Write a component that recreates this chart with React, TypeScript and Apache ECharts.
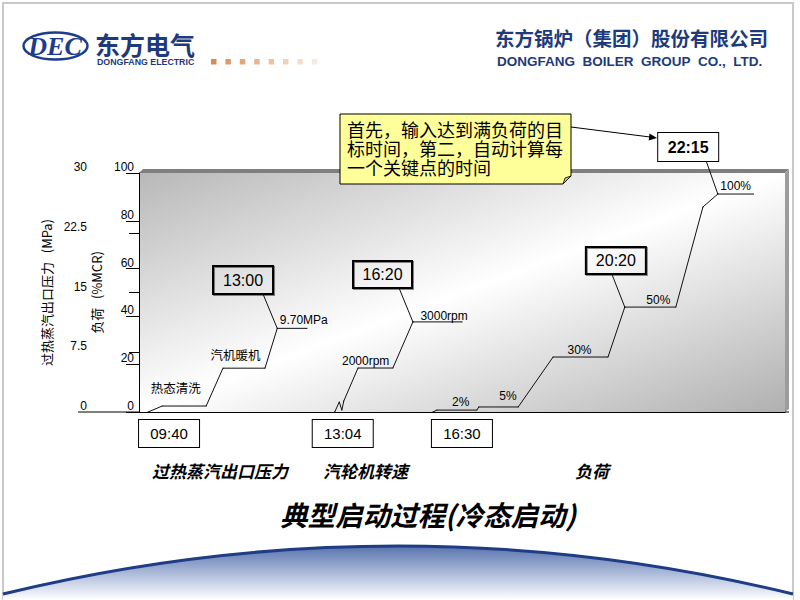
import React, { useEffect, useRef } from 'react';
import * as echarts from 'echarts';

const SANS = "'Liberation Sans', Arial, 'Noto Sans CJK SC', sans-serif";
const CJK = "'Noto Sans CJK SC', 'Liberation Sans', sans-serif";

// Schematic horizontal position (% of plot width) – the original drawing is not time-linear
const pressureX = [1.4, 3.6, 10.4, 13.0, 19.5, 21.4, 26.0];
const pressureMPa = [0, 0.75, 0.75, 5.5, 5.5, 10.5, 10.5];
const speedX = [30.3, 31.0, 31.4, 31.7, 33.9, 39.3, 42.4, 50.0];
const speedLevel = [0, 4.2, 0.8, 4.6, 18.4, 18.4, 37.7, 37.7];
const loadX = [45.5, 46.1, 52.3, 52.6, 58.7, 64.1, 72.6, 75.2, 83.1, 87.3, 89.6, 95.1];
const loadPct = [0, 0.8, 0.8, 2.1, 2.1, 23, 23, 43.9, 43.9, 85.8, 91.2, 91.2];

const seriesNames = ['过热蒸汽出口压力', '汽轮机转速', '负荷'];
const startTimes = ['09:40', '13:04', '16:30'];
const keyTimes = ['13:00', '16:20', '20:20', '22:15'];
const pressureNotes = ['热态清洗', '汽机暖机', '9.70MPa'];
const speedNotes = ['2000rpm', '3000rpm'];
const loadNotes = ['2%', '5%', '30%', '50%', '100%'];
const pressureTicks = [0, 7.5, 15, 22.5, 30];
const loadTicks = [0, 20, 40, 60, 80, 100];
const calloutLines = ['首先，输入达到满负荷的目', '标时间，第二，自动计算每', '一个关键点的时间'];
const titleText = '典型启动过程(冷态启动)';

echarts.graphic.registerShape(
  'dome',
  echarts.graphic.extendPath('M3,594 Q398,498 793,594 L793,600 L3,600 Z', {})
);

const note = (text: string, position: string, distance: number, dy: number, dx = 0, cjk = false) => ({
  show: true,
  formatter: text,
  position,
  distance,
  offset: [dx, dy],
  color: '#000',
  fontSize: cjk ? 12.5 : 12,
  lineHeight: cjk ? 13 : 12,
  fontFamily: cjk ? CJK : SANS,
});

const timeBox = (text: string, position: string, dx: number, dy: number, opts: any = {}) => ({
  show: true,
  formatter: text,
  position,
  distance: 0,
  offset: [dx, dy],
  width: opts.width ?? 59,
  height: opts.height ?? 27,
  lineHeight: opts.height ?? 27,
  align: 'center',
  padding: 0,
  borderColor: '#000',
  borderWidth: 1,
  backgroundColor: opts.bg ?? 'transparent',
  color: '#000',
  fontSize: opts.fontSize ?? 16,
  fontWeight: opts.bold ? 'bold' : 'normal',
  fontFamily: SANS,
});

function pts(xs: number[], ys: number[], labels: Record<number, any>) {
  return xs.map((x, i) => (labels[i] ? { value: [x, ys[i]], label: labels[i] } : { value: [x, ys[i]] }));
}

const lineBase = {
  type: 'line',
  symbol: 'circle',
  symbolSize: 1,
  itemStyle: { color: '#000' },
  lineStyle: { color: '#111', width: 1 },
  clip: false,
  silent: true,
  emphasis: { disabled: true },
  z: 3,
};

function buildOption() {
  const lowBox = { width: 60, height: 27, bg: '#fff', fontSize: 15 };
  const pressureData = pts(pressureX, pressureMPa, {
    0: timeBox(startTimes[0], 'bottom', 21, 7.5, lowBox),
    1: note(pressureNotes[0], 'right', 0, -19, -12, true),
    4: note(pressureNotes[1], 'left', 4, -14, 0, true),
    5: note(pressureNotes[2], 'right', 2, -8),
  });
  const speedData = pts(speedX, speedLevel, {
    0: timeBox(startTimes[1], 'bottom', 8, 7.5, lowBox),
    5: note(speedNotes[0], 'left', 3, -7),
    6: note(speedNotes[1], 'right', 7, -6),
  });
  const loadData = pts(loadX, loadPct, {
    0: timeBox(startTimes[2], 'bottom', 29, 7.5, lowBox),
    2: note(loadNotes[0], 'left', 7, -8),
    4: note(loadNotes[1], 'left', 1, -10.5),
    6: note(loadNotes[2], 'left', 16, -7),
    8: note(loadNotes[3], 'left', 5, -7),
    10: note(loadNotes[4], 'right', 2, -8.5),
  });

  // leader lines from each key-time box to its point on the curve
  const shadow = { shadowColor: 'rgba(0,0,0,0.45)', shadowOffsetX: 1, shadowOffsetY: 1, shadowBlur: 0 };
  const leaders = [
    { axis: 0, from: [19.2, 14.8], to: [pressureX[5], pressureMPa[5]], dx: -20, opts: { width: 60, height: 28 } },
    { axis: 1, from: [40.25, 51.9], to: [speedX[6], speedLevel[6]], dx: -16.5, opts: {} },
    { axis: 1, from: [73.2, 57.7], to: [loadX[7], loadPct[7]], dx: 4, opts: { width: 60 } },
    { axis: 1, from: [87.8, 105], to: [loadX[10], loadPct[10]], dx: -18, opts: { width: 60, height: 28, bold: true, bg: '#fff' } },
  ];
  const leaderSeries = leaders.map((l, i) => ({
    ...lineBase,
    name: 'key-' + keyTimes[i],
    yAxisIndex: l.axis,
    data: [{ value: l.from, label: { ...timeBox(keyTimes[i], 'top', l.dx, 0.5, l.opts), ...(i < 3 ? shadow : {}) } }, { value: l.to }],
  }));

  const navy = '#1d3a7c';
  const squares = ['#d98b55', '#df9a6a', '#e4a77d', '#e9b591', '#edc2a4', '#f1cfb8', '#f5dccb', '#f8e8dd'];

  const topText = (text: string, x: number, y: number, font: string, size: number, fill = '#000') => ({
    type: 'text', x, y, silent: true,
    style: { text, fill, font: `${font} ${size}px ${font.includes('serif') ? '' : ''}`.trim(), fontSize: size, lineHeight: size, verticalAlign: 'top', textVerticalAlign: 'top' },
  });

  const graphic: any[] = [
    // slide frame
    { type: 'rect', shape: { x: 3, y: 3, width: 790, height: 600 }, style: { fill: 'none', stroke: '#c9c9c9', lineWidth: 2 }, silent: true },
    // bottom dome
    {
      type: 'dome', x: 0, y: 0, scaleX: 1, scaleY: 1, silent: true,
      style: { fill: new echarts.graphic.LinearGradient(0, 0, 0, 1, [
        { offset: 0, color: '#5873ad' }, { offset: 0.55, color: '#b4c1dd' }, { offset: 1, color: '#ffffff' },
      ]) },
    },
    { type: 'bezierCurve', shape: { x1: 3, y1: 594, x2: 793, y2: 594, cpx1: 398, cpy1: 498 }, style: { fill: 'none', stroke: '#1f3d86', lineWidth: 3 }, silent: true },
    // DEC logo
    { type: 'ellipse', shape: { cx: 55.5, cy: 46, rx: 32, ry: 13.5 }, style: { fill: 'none', stroke: '#1e3c8c', lineWidth: 2.5 }, silent: true },
    { type: 'text', x: 55, y: 46.5, silent: true, style: { text: 'DEC', fill: '#1e3c8c', font: "italic bold 26px 'Liberation Serif', serif", lineHeight: 26, align: 'center', verticalAlign: 'middle', textAlign: 'center', textVerticalAlign: 'middle' } },
    { type: 'text', x: 95, y: 31, silent: true, style: { text: '东方电气', fill: navy, font: `bold 25px ${CJK}`, lineHeight: 25, verticalAlign: 'top', textVerticalAlign: 'top' } },
    { type: 'text', x: 97, y: 57.5, silent: true, style: { text: 'DONGFANG ELECTRIC', fill: navy, font: `bold 8.8px ${SANS}`, lineHeight: 9, verticalAlign: 'top', textVerticalAlign: 'top' } },
    ...squares.map((c, i) => ({ type: 'rect', shape: { x: 211 + i * 14.4, y: 59, width: 5.5, height: 5.5 }, style: { fill: c }, silent: true })),
    { type: 'text', x: 495, y: 27, silent: true, style: { text: '东方锅炉（集团）股份有限公司', fill: navy, font: `bold 19.5px ${CJK}`, lineHeight: 20, verticalAlign: 'top', textVerticalAlign: 'top' } },
    { type: 'text', x: 497, y: 54.5, silent: true, style: { text: 'DONGFANG\u00a0 BOILER\u00a0 GROUP\u00a0 CO.,\u00a0 LTD.', fill: navy, font: `bold 13.5px ${SANS}`, lineHeight: 14, verticalAlign: 'top', textVerticalAlign: 'top' } },
    // 3D edges of the plot box
    { type: 'polygon', shape: { points: [[139, 173], [143, 169], [789, 169], [785, 173]] }, style: { fill: '#7f7f7f' }, silent: true },
    { type: 'polygon', shape: { points: [[785, 173], [789, 169], [789, 409], [785, 412]] }, style: { fill: '#9c9c9c' }, silent: true },
    // base line extensions
    { type: 'line', shape: { x1: 78, y1: 412, x2: 139, y2: 412 }, style: { stroke: '#000', lineWidth: 1 }, silent: true },
    { type: 'line', shape: { x1: 785, y1: 412, x2: 789, y2: 412 }, style: { stroke: '#000', lineWidth: 1 }, silent: true },
    // series captions
    ...[152, 323, 575].map((x, i) => ({
      type: 'text', x, y: 470.5, silent: true,
      style: { text: seriesNames[i], fill: '#000', font: `italic bold 17px ${CJK}`, lineHeight: 17, verticalAlign: 'middle', textVerticalAlign: 'middle' },
    })),
    // callout note
    {
      type: 'group', z: 10, silent: true,
      children: [
        { type: 'polygon', shape: { points: [[340, 114], [571, 114], [571, 176], [563, 184], [340, 184]] }, style: { fill: '#ffff99', stroke: '#000', lineWidth: 1 } },
        { type: 'polygon', shape: { points: [[571, 176], [563, 184], [565, 178]] }, style: { fill: '#cccc66', stroke: '#000', lineWidth: 0.8 } },
        ...calloutLines.map((t, i) => ({
          type: 'text', x: 347, y: 128.5 + i * 19.3,
          style: { text: t, fill: '#000', font: `18px ${CJK}`, lineHeight: 18, verticalAlign: 'middle', textVerticalAlign: 'middle' },
        })),
        { type: 'line', shape: { x1: 571, y1: 127, x2: 650, y2: 137 }, style: { stroke: '#000', lineWidth: 1 } },
        { type: 'polygon', shape: { points: [[657, 138], [649.5, 133.5], [648.7, 140.5]] }, style: { fill: '#000' } },
      ],
    },
  ];
  void topText;

  return {
    animation: false,
    backgroundColor: '#fff',
    title: {
      text: titleText, left: 280, top: 500, padding: 0,
      textStyle: { fontSize: 27.5, fontWeight: 'bold', fontStyle: 'italic', color: '#000', fontFamily: CJK, lineHeight: 28 },
    },
    grid: {
      left: 139, right: 15, top: 173, bottom: 188, show: true, borderWidth: 0,
      backgroundColor: new echarts.graphic.LinearGradient(0, 0, 1, 1, [
        { offset: 0, color: '#b8b8b8' }, { offset: 0.5, color: '#ffffff' }, { offset: 1, color: '#b0b0b0' },
      ]),
    },
    xAxis: {
      type: 'value', min: 0, max: 100,
      axisLine: { show: true, onZero: false, lineStyle: { color: '#000', width: 1 } },
      axisTick: { show: false }, axisLabel: { show: false }, splitLine: { show: false },
    },
    yAxis: [
      {
        type: 'value', min: pressureTicks[0], max: pressureTicks[pressureTicks.length - 1], interval: pressureTicks[1] - pressureTicks[0],
        position: 'left', offset: 49,
        name: '过热蒸汽出口压力\u00a0\u00a0\u00a0(MPa)', nameLocation: 'middle', nameGap: 29, nameRotate: 90,
        nameTextStyle: { color: '#000', fontSize: 13, fontFamily: CJK },
        axisLine: { show: true, lineStyle: { color: '#000', width: 1 } },
        axisTick: { show: true, length: 10, lineStyle: { color: '#000' } },
        axisLabel: { color: '#000', fontSize: 12, fontFamily: SANS, margin: 3, verticalAlign: 'bottom' },
        splitLine: { show: false },
      },
      {
        type: 'value', min: loadTicks[0], max: loadTicks[loadTicks.length - 1], interval: loadTicks[1] - loadTicks[0],
        position: 'left', offset: 0,
        name: '负荷\u00a0\u00a0\u00a0(%MCR)', nameLocation: 'middle', nameGap: 25, nameRotate: 90,
        nameTextStyle: { color: '#000', fontSize: 13, fontFamily: CJK },
        axisLine: { show: false },
        axisTick: { show: true, length: 13, lineStyle: { color: '#000' } },
        axisLabel: { color: '#000', fontSize: 12, fontFamily: SANS, margin: 5, verticalAlign: 'bottom' },
        splitLine: { show: false },
      },
    ],
    series: [
      { ...lineBase, name: seriesNames[0], yAxisIndex: 0, data: pressureData },
      { ...lineBase, name: seriesNames[1], yAxisIndex: 1, data: speedData },
      { ...lineBase, name: seriesNames[2], yAxisIndex: 1, data: loadData },
      ...leaderSeries,
    ],
    graphic,
  };
}

export default function App() {
  const ref = useRef<HTMLDivElement>(null);
  useEffect(() => {
    const chart = echarts.init(ref.current!, null, { renderer: 'svg' });
    chart.setOption(buildOption() as any);
    return () => chart.dispose();
  }, []);
  return (
    <div style={{ position: 'fixed', left: 0, top: 0, width: 800, height: 600, background: '#fff' }}>
      <div ref={ref} style={{ width: 800, height: 600 }} />
    </div>
  );
}
